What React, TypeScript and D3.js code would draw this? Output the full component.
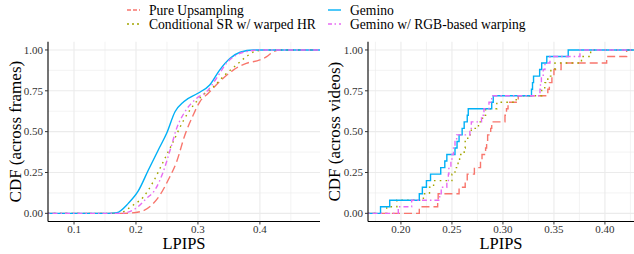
import React from "react";
import * as d3 from "d3";

// ---------- data ----------
const seriesNames = ["Pure Upsampling", "Conditional SR w/ warped HR", "Gemino", "Gemino w/ RGB-based warping"];
const seriesColors = ["#F8766D", "#A3A500", "#00B0F6", "#E76BF3"];
const seriesDash = ["8,4", "1.6,4.2", "", "1.5,3,5,3"];
const legendDash = ["4,2", "2,3", "", "4,2.5,1.5,3"];

// Left panel: CDF across frames (smooth)
const upsampX = [0.058, 0.18, 0.2065, 0.225, 0.2387, 0.252, 0.2656, 0.279, 0.2924, 0.303, 0.3167, 0.335, 0.357, 0.378, 0.40, 0.411, 0.422, 0.432, 0.497];
const upsampY = [0, 0, 0.01, 0.05, 0.112, 0.204, 0.316, 0.48, 0.602, 0.683, 0.735, 0.806, 0.877, 0.918, 0.939, 0.959, 0.99, 1, 1];
const condX = [0.058, 0.17, 0.1957, 0.2118, 0.228, 0.244, 0.26, 0.277, 0.289, 0.308, 0.325, 0.3435, 0.362, 0.378, 0.394, 0.41, 0.497];
const condY = [0, 0, 0.051, 0.1, 0.194, 0.316, 0.438, 0.571, 0.643, 0.724, 0.775, 0.847, 0.908, 0.959, 0.994, 1, 1];
const geminoX = [0.058, 0.155, 0.169, 0.1876, 0.2037, 0.22, 0.236, 0.2495, 0.263, 0.277, 0.3, 0.319, 0.335, 0.352, 0.368, 0.39, 0.497];
const geminoY = [0, 0, 0.004, 0.061, 0.137, 0.265, 0.388, 0.49, 0.622, 0.683, 0.735, 0.786, 0.877, 0.949, 0.986, 1, 1];
const rgbX = [0.058, 0.175, 0.201, 0.217, 0.2306, 0.244, 0.256, 0.2656, 0.279, 0.298, 0.314, 0.33, 0.346, 0.362, 0.378, 0.40, 0.497];
const rgbY = [0, 0, 0.034, 0.092, 0.143, 0.255, 0.398, 0.52, 0.622, 0.704, 0.745, 0.827, 0.919, 0.969, 0.99, 1, 1];

// Right panel: per-video LPIPS (25 videos each)
const upsampVideos = [0.218, 0.236, 0.2365, 0.257, 0.263, 0.265, 0.272, 0.278, 0.2795, 0.283, 0.284, 0.285, 0.288, 0.289, 0.302, 0.3035, 0.305, 0.315, 0.344, 0.3455, 0.348, 0.35, 0.357, 0.4017, 0.4213];
const condVideos = [0.186, 0.196, 0.222, 0.228, 0.232, 0.25, 0.253, 0.256, 0.2575, 0.262, 0.263, 0.2655, 0.269, 0.276, 0.28, 0.283, 0.294, 0.313, 0.338, 0.341, 0.344, 0.347, 0.351, 0.377, 0.386];
const geminoVideos = [0.18, 0.189, 0.218, 0.221, 0.225, 0.229, 0.239, 0.243, 0.245, 0.253, 0.255, 0.257, 0.26, 0.262, 0.265, 0.266, 0.289, 0.2905, 0.328, 0.329, 0.33, 0.336, 0.338, 0.343, 0.364];
const rgbVideos = [0.1974, 0.2105, 0.238, 0.2395, 0.245, 0.2465, 0.247, 0.249, 0.25, 0.2515, 0.253, 0.2546, 0.2676, 0.269, 0.279, 0.2814, 0.2863, 0.289, 0.3363, 0.3368, 0.3377, 0.3395, 0.3412, 0.3461, 0.3755];

const yTicks = [0, 0.25, 0.5, 0.75, 1];
const yMinor = [0.125, 0.375, 0.625, 0.875];
const leftXTicks = [0.1, 0.2, 0.3, 0.4];
const leftXMinor = [0.15, 0.25, 0.35, 0.45];
const rightXTicks = [0.2, 0.25, 0.3, 0.35, 0.4];
const rightXMinor = [0.175, 0.225, 0.275, 0.325, 0.375, 0.425];

const FONT = "'Liberation Serif', 'Times New Roman', serif";

type Pt = [number, number];

function Panel(props: {
  x0: number; x1: number; domain: [number, number];
  xTicks: number[]; xMinor: number[]; fmt: string; yTitle: string; titleX: number;
  series: Pt[][]; step: boolean;
}) {
  const top = 41.8, bottom = 221.5;
  const x = d3.scaleLinear().domain(props.domain).range([props.x0, props.x1]);
  const y = d3.scaleLinear().domain([-0.05, 1.05]).range([bottom, top]);
  const line = d3.line<Pt>().x(d => x(d[0])).y(d => y(d[1]))
    .curve(props.step ? d3.curveStepAfter : d3.curveMonotoneX);
  const fx = d3.format(props.fmt);
  const fy = d3.format(".2f");
  const grid = "#EBEBEB";
  return (
    <g>
      {props.xMinor.filter(v => v > props.domain[0] && v < props.domain[1]).map((v, i) => (
        <line key={"xm" + i} x1={x(v)} x2={x(v)} y1={top} y2={bottom} stroke={grid} strokeWidth={0.6} />
      ))}
      {yMinor.map((v, i) => (
        <line key={"ym" + i} x1={props.x0} x2={props.x1} y1={y(v)} y2={y(v)} stroke={grid} strokeWidth={0.6} />
      ))}
      {props.xTicks.map((v, i) => (
        <line key={"xg" + i} x1={x(v)} x2={x(v)} y1={top} y2={bottom} stroke={grid} strokeWidth={1.1} />
      ))}
      {yTicks.map((v, i) => (
        <line key={"yg" + i} x1={props.x0} x2={props.x1} y1={y(v)} y2={y(v)} stroke={grid} strokeWidth={1.1} />
      ))}
      {props.series.map((s, i) => (
        <path key={"s" + i} d={line(s) || ""} fill="none" stroke={seriesColors[i]} strokeWidth={1.4}
          strokeDasharray={seriesDash[i] || undefined} />
      ))}
      <line x1={props.x0} x2={props.x0} y1={top} y2={bottom} stroke="#000" strokeWidth={1.1} />
      <line x1={props.x0} x2={props.x1} y1={bottom} y2={bottom} stroke="#000" strokeWidth={1.1} />
      {yTicks.map((v, i) => (
        <g key={"yt" + i}>
          <line x1={props.x0 - 3} x2={props.x0} y1={y(v)} y2={y(v)} stroke="#333" strokeWidth={1} />
          <text x={props.x0 - 5} y={y(v) + 3.8} textAnchor="end" fontSize={11} fill="#333" fontFamily={FONT}>{fy(v)}</text>
        </g>
      ))}
      {props.xTicks.map((v, i) => (
        <g key={"xt" + i}>
          <line x1={x(v)} x2={x(v)} y1={bottom} y2={bottom + 3} stroke="#333" strokeWidth={1} />
          <text x={x(v)} y={bottom + 11} textAnchor="middle" fontSize={11} fill="#333" fontFamily={FONT}>{fx(v)}</text>
        </g>
      ))}
      <text x={(props.x0 + props.x1) / 2} y={249} textAnchor="middle" fontSize={16.5} fontFamily={FONT}>LPIPS</text>
      <text transform={`translate(${props.titleX},${(top + bottom) / 2}) rotate(-90)`} textAnchor="middle"
        fontSize={17} fontFamily={FONT}>{props.yTitle}</text>
    </g>
  );
}

function ecdf(vals: number[], d: [number, number]): Pt[] {
  const s = vals.slice().sort((a, b) => a - b);
  const n = s.length;
  const pts: Pt[] = [[d[0], 0]];
  s.forEach((v, i) => pts.push([v, (i + 1) / n]));
  pts.push([d[1], 1]);
  return pts;
}

export default function App() {
  const leftSeries: Pt[][] = [
    upsampX.map((v, i) => [v, upsampY[i]] as Pt),
    condX.map((v, i) => [v, condY[i]] as Pt),
    geminoX.map((v, i) => [v, geminoY[i]] as Pt),
    rgbX.map((v, i) => [v, rgbY[i]] as Pt),
  ];
  const rDomain: [number, number] = [0.1677, 0.4285];
  const rightSeries: Pt[][] = [upsampVideos, condVideos, geminoVideos, rgbVideos].map(v => ecdf(v, rDomain));
  const legendPos = [
    { x: 127, y: 10 }, { x: 127, y: 24 }, { x: 328, y: 10 }, { x: 328, y: 24 },
  ];
  return (
    <svg width={634} height={254} style={{ position: "absolute", left: 0, top: 0, background: "#fff" }}>
      <rect width={634} height={254} fill="#fff" />
      {seriesNames.map((n, i) => (
        <g key={"lg" + i}>
          <line x1={legendPos[i].x} x2={legendPos[i].x + 13} y1={legendPos[i].y} y2={legendPos[i].y}
            stroke={seriesColors[i]} strokeWidth={1.4} strokeDasharray={legendDash[i] || undefined} />
          <text x={legendPos[i].x + 22} y={legendPos[i].y + 4.6} fontSize={13.6} fontFamily={FONT}>{n}</text>
        </g>
      ))}
      <Panel x0={48} x1={320} domain={[0.058, 0.497]} xTicks={leftXTicks} xMinor={leftXMinor} fmt=".1f"
        yTitle="CDF (across frames)" titleX={21} series={leftSeries} step={false} />
      <Panel x0={368} x1={634} domain={rDomain} xTicks={rightXTicks} xMinor={rightXMinor} fmt=".2f"
        yTitle="CDF (across videos)" titleX={340} series={rightSeries} step={true} />
    </svg>
  );
}
